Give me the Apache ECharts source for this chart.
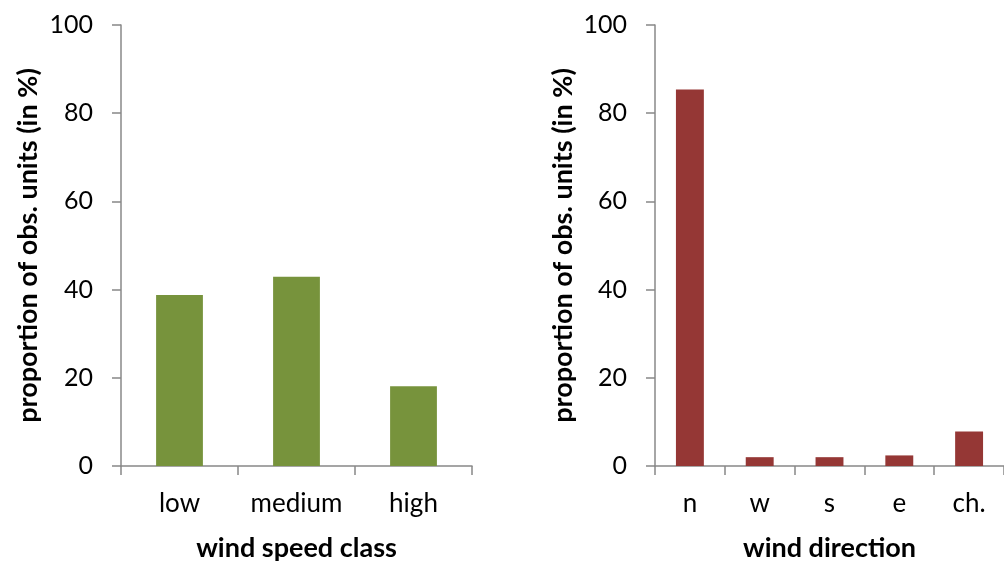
<!DOCTYPE html>
<html><head><meta charset="utf-8">
<script src="https://cdn.jsdelivr.net/npm/echarts@6/dist/echarts.min.js"></script>
<style>html,body{margin:0;padding:0;background:#fff}#c{width:1004px;height:561px}</style>
</head><body><div id="c"></div>
<script>
const speedClasses = ['low', 'medium', 'high'];
const speedValues = [38.8, 42.9, 18.1];
const directions = ['n', 'w', 's', 'e', 'ch.'];
const directionValues = [85.4, 2.0, 2.0, 2.4, 7.8];
const yTicks = [0, 20, 40, 60, 80, 100];
const yTitle = 'proportion of obs. units (in %)';
const xTitleLeft = 'wind speed class';
const xTitleRight = 'wind direction';

const FONT = 'Lato';
const axisColor = '#888888';
function xAxis(idx, cats, name) {
  return {
    type: 'category', gridIndex: idx, data: cats,
    name: name, nameLocation: 'middle', nameGap: 69,
    nameTextStyle: {fontFamily: FONT, fontWeight: 'bold', fontSize: 27, color: '#000'},
    axisLine: {lineStyle: {color: axisColor, width: 1.5}},
    axisTick: {show: true, length: 9, alignWithLabel: false, interval: 0, lineStyle: {color: axisColor, width: 1.5}},
    axisLabel: {fontFamily: FONT, fontSize: 26, color: '#000', margin: 25, interval: 0, hideOverlap: false}
  };
}
function yAxis(idx, gap) {
  return {
    type: 'value', gridIndex: idx, min: yTicks[0], max: yTicks[yTicks.length - 1], interval: 20,
    name: yTitle, nameLocation: 'middle', nameGap: gap, nameRotate: 90,
    nameTextStyle: {fontFamily: FONT, fontWeight: 'bold', fontSize: 27, color: '#000'},
    axisLine: {show: true, lineStyle: {color: axisColor, width: 1.5}},
    axisTick: {show: true, length: 9, inside: false, lineStyle: {color: axisColor, width: 1.5}},
    splitLine: {show: false},
    axisLabel: {fontFamily: FONT, fontSize: 25, color: '#000', margin: 28}
  };
}
const chart = echarts.init(document.getElementById('c'));
chart.setOption({
  animation: false,
  backgroundColor: '#fff',
  grid: [
    {left: 121, right: 532, top: 25, bottom: 95, outerBoundsMode: 'none', containLabel: false},
    {left: 655, right: 0, top: 25, bottom: 95, outerBoundsMode: 'none', containLabel: false}
  ],
  xAxis: [xAxis(0, speedClasses, xTitleLeft), xAxis(1, directions, xTitleRight)],
  yAxis: [yAxis(0, 79), yAxis(1, 78)],
  series: [
    {type: 'bar', xAxisIndex: 0, yAxisIndex: 0, data: speedValues, barWidth: '40%',
     itemStyle: {color: '#77933C'}},
    {type: 'bar', xAxisIndex: 1, yAxisIndex: 1, data: directionValues, barWidth: '40%',
     itemStyle: {color: '#953735'}}
  ]
});
</script></body></html>
